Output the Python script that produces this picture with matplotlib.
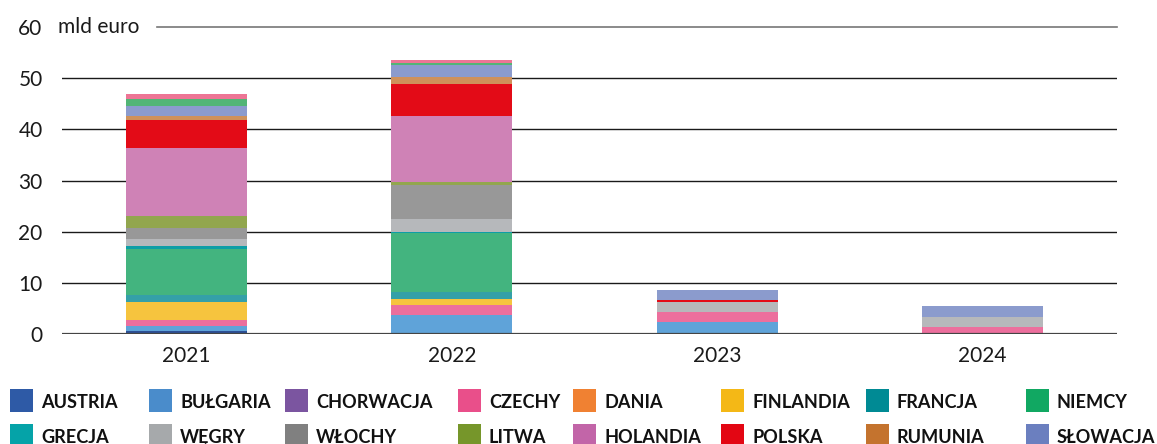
import matplotlib.pyplot as plt
from matplotlib.patches import Rectangle
import numpy as np

plt.rcParams['font.family'] = ['Lato', 'DejaVu Sans']

# --- DATA (mld euro) ---
years = ['2021', '2022', '2023', '2024']
countries = ['AUSTRIA', 'BUŁGARIA', 'CHORWACJA', 'CZECHY', 'DANIA', 'FINLANDIA',
             'FRANCJA', 'NIEMCY', 'GRECJA', 'WĘGRY', 'WŁOCHY', 'LITWA',
             'HOLANDIA', 'POLSKA', 'RUMUNIA', 'SŁOWACJA']
austria = [0.6, 0.0, 0.0, 0.0]
bulgaria = [1.0, 3.75, 2.4, 0.2]
chorwacja = [0.0, 0.0, 0.0, 0.0]
czechy = [1.2, 1.9, 1.95, 1.1]
dania = [0.0, 0.0, 0.0, 0.0]
finlandia = [3.4, 1.15, 0.0, 0.0]
francja = [1.4, 1.35, 0.0, 0.0]
niemcy = [9.1, 11.5, 0.0, 0.0]
grecja = [0.5, 0.2, 0.0, 0.0]
wegry = [1.4, 2.65, 2.0, 2.1]
wlochy = [2.1, 6.6, 0.0, 0.0]
litwa = [2.3, 0.65, 0.0, 0.0]
holandia = [13.4, 12.9, 0.0, 0.0]
polska = [5.4, 6.2, 0.3, 0.0]
rumunia = [0.8, 1.35, 0.0, 0.0]
slowacja = [1.9, 2.3, 1.95, 2.1]
# two thin segments on top of the bars with no legend entry
extra_green = [1.5, 0.4, 0.0, 0.0]
extra_pink = [1.0, 0.6, 0.0, 0.0]

series = [austria, bulgaria, chorwacja, czechy, dania, finlandia, francja, niemcy,
          grecja, wegry, wlochy, litwa, holandia, polska, rumunia, slowacja,
          extra_green, extra_pink]

# legend swatch colours and (slightly lighter) bar colours
legend_colors = ['#2e5aa6', '#4a8ccb', '#7b55a0', '#e94f8a', '#f08132', '#f4b816',
                 '#008a94', '#11a862', '#05a3a8', '#a6a9ab', '#808080', '#76962a',
                 '#c265a8', '#e30613', '#c4732e', '#6b7fbf']
bar_colors = ['#2c4f94', '#5fa3d9', '#8f74b3', '#ec6f9d', '#f39a5b', '#f6c43e',
              '#34a0a8', '#43b47f', '#0e9ea6', '#b6b8bb', '#989898', '#92a64e',
              '#cf82b6', '#e30b17', '#cf915a', '#8b9bcd', '#52b576', '#ed7595']

W, H = 1157, 444
fig = plt.figure(figsize=(W / 100, H / 100), dpi=100)
ax = fig.add_axes([62 / W, 1 - 334 / H, (1117 - 62) / W, (334 - 27) / H])

x = np.arange(len(years))
bottom = np.zeros(len(years))
for vals, col in zip(series, bar_colors):
    ax.bar(x, vals, width=0.456, bottom=bottom, color=col, linewidth=0, zorder=3)
    bottom += np.array(vals)

ax.set_xlim(-0.469, 3.507)
ax.set_ylim(0, 60)
ax.set_yticks(np.arange(0, 70, 10))
ax.set_yticklabels(['0', '10', '20', '30', '40', '50', '60'])
ax.set_xticks(x)
ax.set_xticklabels(years)
ax.tick_params(axis='both', length=0, labelsize=15, colors='#1a1a1a')
ax.tick_params(axis='y', pad=14)
ax.tick_params(axis='x', pad=9)
for s in ax.spines.values():
    s.set_visible(False)

# gridlines
for v in range(10, 60, 10):
    ax.axhline(v, color='#1a1a1a', linewidth=1.0, zorder=1)
ax.axhline(0, color='#444444', linewidth=1.6, zorder=4)
ax.plot([0.09, 1.0], [60, 60], transform=ax.get_yaxis_transform(),
        color='#777777', linewidth=1.2, clip_on=False, zorder=1)
fig.text(58 / W, 1 - 27 / H, 'mld euro', fontsize=15, color='#1a1a1a',
         ha='left', va='center')

# legend, laid out manually in two rows of eight (second row touches the edge)
col_x = [10, 149, 285, 458, 573, 721, 866, 1026]
row_y = [400.5, 435.5]
for i, (name, col) in enumerate(zip(countries, legend_colors)):
    r, c = divmod(i, 8)
    x0 = col_x[c]
    yc = row_y[r]
    fig.add_artist(Rectangle((x0 / W, 1 - (yc + 11.5) / H), 23 / W, 23 / H,
                             transform=fig.transFigure, color=col, linewidth=0))
    fig.text((x0 + 31) / W, 1 - (yc + 0.5) / H, name, fontsize=13.1,
             fontweight='bold', color='#111111', ha='left', va='center_baseline')

fig.savefig('out.png', dpi=100)
